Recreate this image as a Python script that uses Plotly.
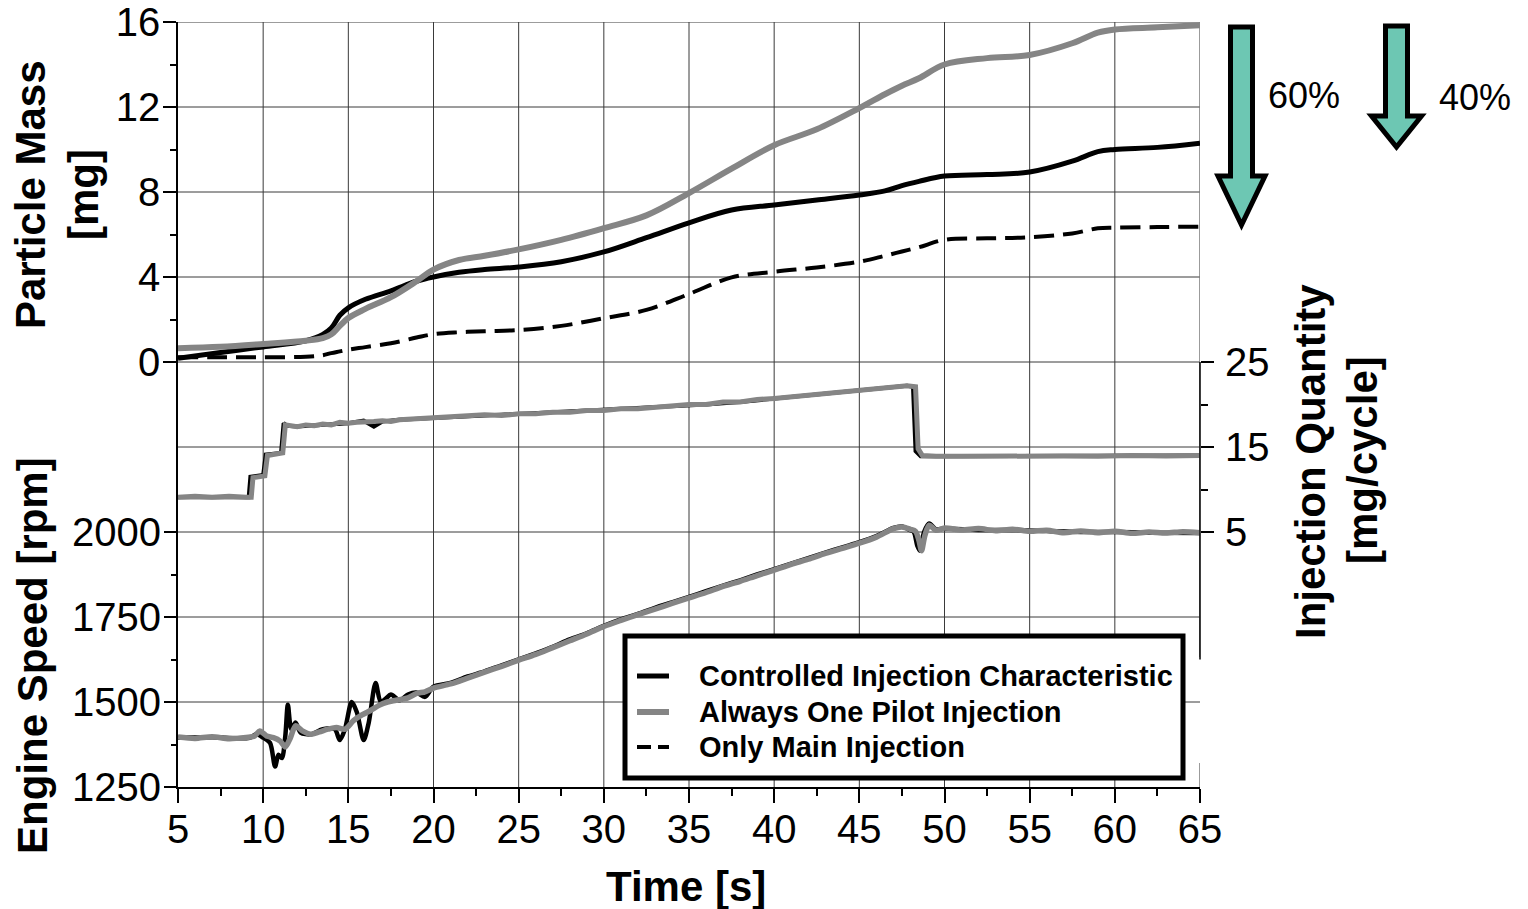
import plotly.graph_objects as go

# ---------------------------------------------------------------------------
# Data
# ---------------------------------------------------------------------------
X_TICKS = [5, 10, 15, 20, 25, 30, 35, 40, 45, 50, 55, 60, 65]
X_MINOR = [7.5, 12.5, 17.5, 22.5, 27.5, 32.5, 37.5, 42.5, 47.5, 52.5, 57.5, 62.5]

PM_TICKS = [0, 4, 8, 12, 16]
PM_MINOR = [2, 6, 10, 14]
PM_GRID = [-20, -16, -12, -8, -4, 0, 4, 8, 12, 16]

SPEED_TICKS = [1250, 1500, 1750, 2000]
SPEED_MINOR = [1375, 1625, 1875]

INJ_TICKS = [5, 15, 25]
INJ_MINOR = [10, 20]

# Accumulated particle mass [mg]
PM_TIME = [5, 7.5, 10, 12.5, 13.5, 14, 14.5, 15, 16, 17.5,
           19, 20, 21.5, 23, 25, 27.5, 30, 32.5, 35, 37.5,
           40, 42.5, 45, 46.5, 47.5, 48.5, 50, 52.5, 55, 57.5,
           59, 60, 62.5, 65]
PM_CONTROLLED = [0.17, 0.45, 0.71, 1.0, 1.3, 1.6, 2.2, 2.55, 2.95, 3.35,
                 3.8, 4.0, 4.22, 4.35, 4.47, 4.72, 5.18, 5.85, 6.55, 7.15,
                 7.39, 7.62, 7.86, 8.05, 8.3, 8.5, 8.75, 8.82, 8.94, 9.45,
                 9.9, 10.0, 10.1, 10.3]
PM_PILOT = [0.65, 0.72, 0.85, 1.0, 1.12, 1.3, 1.7, 2.07, 2.5, 3.05,
            3.8, 4.35, 4.8, 5.0, 5.3, 5.75, 6.3, 6.9, 7.95, 9.1,
            10.2, 10.95, 11.95, 12.6, 13.0, 13.35, 14.0, 14.3, 14.45, 15.0,
            15.5, 15.65, 15.75, 15.85]
PM_MAIN = [0.22, 0.22, 0.22, 0.25, 0.32, 0.42, 0.5, 0.58, 0.7, 0.88,
           1.15, 1.31, 1.4, 1.45, 1.5, 1.7, 2.06, 2.45, 3.2, 3.98,
           4.25, 4.45, 4.72, 5.0, 5.2, 5.4, 5.75, 5.82, 5.87, 6.05,
           6.29, 6.32, 6.35, 6.37]

# Injection quantity [mg/cycle]
INJ_TIME_CONTROLLED = [5, 7, 9, 9.15, 9.25, 10.0, 10.15, 11.05, 11.2, 11.4,
                       12, 13, 14, 15, 15.9, 16.5, 17, 18, 20, 22,
                       24, 26, 28, 30, 32, 34, 36, 38, 40, 42,
                       44, 46, 47.8, 48.15, 48.3, 48.6, 50, 55, 60, 65]
INJ_CONTROLLED = [9.1, 9.15, 9.1, 9.1, 11.5, 11.7, 14.1, 14.3, 17.8, 17.5,
                  17.4, 17.5, 17.6, 17.8, 18.1, 17.4, 18.0, 18.2, 18.4, 18.6,
                  18.7, 18.9, 19.1, 19.3, 19.5, 19.8, 20.0, 20.3, 20.7, 21.0,
                  21.4, 21.8, 22.2, 22.1, 14.5, 13.9, 13.9, 13.9, 13.95, 14.0]

INJ_TIME_PILOT = [5, 6, 7, 8, 9, 9.3, 9.4, 10.1, 10.25, 11.15,
                  11.3, 11.5, 12, 12.5, 13, 13.5, 14, 14.5, 15, 15.5,
                  16, 16.5, 17, 17.5, 18, 19, 20, 21, 22, 23,
                  24, 25, 26, 27, 28, 29, 30, 31, 32, 33,
                  34, 35, 36, 37, 38, 39, 40, 41, 42, 43,
                  44, 45, 46, 47, 47.8, 48.3, 48.45, 48.7, 49.5, 51,
                  53, 55, 57, 59, 61, 63, 65]
INJ_PILOT = [9.1, 9.2, 9.1, 9.2, 9.1, 9.1, 11.4, 11.6, 14.0, 14.3,
             17.6, 17.5, 17.4, 17.6, 17.5, 17.7, 17.6, 17.9, 17.8, 17.9,
             17.9, 18.0, 18.1, 18.0, 18.2, 18.3, 18.4, 18.6, 18.6, 18.8,
             18.7, 18.9, 18.9, 19.1, 19.1, 19.3, 19.3, 19.5, 19.5, 19.7,
             19.8, 20.0, 20.0, 20.3, 20.3, 20.6, 20.7, 20.9, 21.0, 21.3,
             21.4, 21.7, 21.8, 22.0, 22.2, 22.1, 14.8, 14.0, 13.9, 13.9,
             13.95, 13.9, 13.95, 13.9, 14.0, 13.95, 14.0]

# Engine speed [rpm]
SPEED_TIME_CONTROLLED = [5, 7, 9.2, 9.6, 10.0, 10.4, 10.7, 10.9, 11.1, 11.3,
                         11.45, 11.65, 11.9, 12.2, 12.8, 13.5, 14.2, 14.5, 14.8, 15.2,
                         15.5, 15.9, 16.2, 16.6, 16.9, 17.2, 17.5, 18, 18.5, 19,
                         19.5, 20, 21, 22, 23, 24, 25, 26, 27, 28,
                         29, 30, 31, 32, 33, 34, 35, 36, 37, 38,
                         39, 40, 41, 42, 43, 44, 45, 46, 47, 47.5,
                         48, 48.2, 48.4, 48.55, 48.8, 49.1, 49.5, 50, 52, 54,
                         56, 58, 60, 62, 65]
SPEED_CONTROLLED = [1395, 1396, 1395, 1405, 1395, 1380, 1310, 1345, 1335, 1400,
                    1492, 1420, 1440, 1410, 1405, 1420, 1420, 1388, 1420, 1500,
                    1470, 1388, 1440, 1556, 1500, 1510, 1522, 1505, 1522, 1528,
                    1515, 1545, 1556, 1575, 1590, 1608, 1625, 1643, 1662, 1684,
                    1702, 1724, 1743, 1759, 1777, 1793, 1809, 1826, 1842, 1858,
                    1875, 1891, 1907, 1923, 1939, 1955, 1970, 1988, 2012, 2016,
                    2005, 2000, 1960, 1945, 2000, 2025, 2008, 2010, 2006, 2006,
                    2003, 2000, 2000, 1998, 1997]

SPEED_TIME_PILOT = [5, 6, 7, 8, 9, 9.5, 9.8, 10.2, 10.6, 11.0,
                    11.3, 11.6, 11.9, 12.3, 12.8, 13.3, 13.8, 14.3, 14.8, 15.3,
                    15.8, 16.3, 16.8, 17.3, 17.8, 18.5, 19, 19.5, 20, 21,
                    22, 23, 24, 25, 26, 27, 28, 29, 30, 31,
                    32, 33, 34, 35, 36, 37, 38, 39, 40, 41,
                    42, 43, 44, 45, 46, 47, 47.5, 48, 48.3, 48.5,
                    48.65, 48.85, 49.1, 49.5, 50, 51, 52, 53, 54, 55,
                    56, 57, 58, 59, 60, 61, 62, 63, 64, 65]
SPEED_PILOT = [1397, 1393, 1398, 1392, 1396, 1400, 1415, 1400, 1395, 1385,
               1368, 1395, 1430, 1415, 1405, 1412, 1420, 1425, 1420, 1445,
               1462, 1475, 1490, 1500, 1505, 1512, 1525, 1530, 1541, 1553,
               1570, 1588, 1605, 1623, 1640, 1660, 1680, 1700, 1722, 1740,
               1757, 1773, 1790, 1806, 1822, 1840, 1855, 1872, 1888, 1905,
               1920, 1937, 1952, 1967, 1985, 2010, 2015, 2008, 2002, 1975,
               1945, 1990, 2020, 2005, 2012, 2006, 2010, 2004, 2008, 2002,
               2005, 1998, 2003, 1998, 2002, 1996, 2000, 1997, 2001, 1998]

SERIES_NAMES = ["Controlled Injection Characteristic",
                "Always One Pilot Injection",
                "Only Main Injection"]
REDUCTION_LABELS = ["60%", "40%"]

# ---------------------------------------------------------------------------
# Styling / geometry helpers
# ---------------------------------------------------------------------------
W, H = 1528, 909
L, R, T, B = 178, 1200, 22, 787          # plot area in pixels

FONT = "Liberation Sans, Arial, sans-serif"
GRAY = "#858585"
BLACK = "#000000"
TEAL = "#6DC7B3"
GRID = "#3a3a3a"


def px(x):
    return (x - L) / (R - L)


def py(y):
    return (B - y) / (B - T)


fig = go.Figure()

# Particle mass (top band)
fig.add_trace(go.Scatter(x=PM_TIME, y=PM_CONTROLLED, yaxis="y", mode="lines",
                         line=dict(color=BLACK, width=5, shape="spline"),
                         name=SERIES_NAMES[0], showlegend=False))
fig.add_trace(go.Scatter(x=PM_TIME, y=PM_PILOT, yaxis="y", mode="lines",
                         line=dict(color=GRAY, width=6, shape="spline"),
                         name=SERIES_NAMES[1], showlegend=False))
fig.add_trace(go.Scatter(x=PM_TIME, y=PM_MAIN, yaxis="y", mode="lines",
                         line=dict(color=BLACK, width=4, shape="spline", dash="20px,9px"),
                         name=SERIES_NAMES[2], showlegend=False))

# Injection quantity (right axis)
fig.add_trace(go.Scatter(x=INJ_TIME_CONTROLLED, y=INJ_CONTROLLED, yaxis="y3", mode="lines",
                         line=dict(color=BLACK, width=4), showlegend=False))
fig.add_trace(go.Scatter(x=INJ_TIME_PILOT, y=INJ_PILOT, yaxis="y3", mode="lines",
                         line=dict(color=GRAY, width=5), showlegend=False))

# Engine speed (left lower axis)
fig.add_trace(go.Scatter(x=SPEED_TIME_CONTROLLED, y=SPEED_CONTROLLED, yaxis="y2", mode="lines",
                         line=dict(color=BLACK, width=4.5, shape="spline", smoothing=0.8),
                         showlegend=False))
fig.add_trace(go.Scatter(x=SPEED_TIME_PILOT, y=SPEED_PILOT, yaxis="y2", mode="lines",
                         line=dict(color=GRAY, width=5.5, shape="spline", smoothing=0.8),
                         showlegend=False))

tickfont = dict(family=FONT, size=40, color="black")

fig.update_layout(
    width=W, height=H,
    margin=dict(l=L, r=W - R, t=T, b=H - B, pad=0, autoexpand=False),
    paper_bgcolor="white", plot_bgcolor="white",
    showlegend=False,
    xaxis=dict(range=[5, 65], tickvals=X_TICKS, ticks="outside", ticklen=14,
               tickwidth=1.5, tickcolor="black", showline=True, linecolor="black",
               linewidth=1.5, showgrid=False, zeroline=False, tickfont=tickfont,
               ticklabeloverflow="allow", ticklabelstandoff=-8, automargin=False,
               minor=dict(tickvals=X_MINOR, ticks="outside", ticklen=7,
                          tickcolor="black", tickwidth=1.5, showgrid=False)),
    yaxis=dict(range=[-20, 16], tickvals=PM_TICKS, ticks="outside", ticklen=13,
               tickwidth=1.5, tickcolor="black", showline=True, linecolor="black",
               linewidth=1.5, showgrid=False, zeroline=False, tickfont=tickfont,
               ticklabeloverflow="allow", ticklabelstandoff=-5, automargin=False,
               minor=dict(tickvals=PM_MINOR, ticks="outside", ticklen=6,
                          tickcolor="black", tickwidth=1.5, showgrid=False)),
    yaxis2=dict(range=[1250, 3500], overlaying="y", side="left", anchor="x",
                tickvals=SPEED_TICKS, ticks="outside", ticklen=13, tickwidth=1.5,
                tickcolor="black", showline=False, showgrid=False, zeroline=False,
                tickfont=tickfont, ticklabeloverflow="allow", ticklabelstandoff=-5,
                automargin=False,
                minor=dict(tickvals=SPEED_MINOR, ticks="outside", ticklen=6,
                           tickcolor="black", tickwidth=1.5, showgrid=False)),
    yaxis3=dict(range=[-25, 65], overlaying="y", side="right", anchor="x",
                tickvals=INJ_TICKS, ticks="outside", ticklen=13, tickwidth=1.5,
                tickcolor="black", showline=False, showgrid=False, zeroline=False,
                tickfont=tickfont, ticklabeloverflow="allow", ticklabelstandoff=3,
                automargin=False,
                minor=dict(tickvals=INJ_MINOR, ticks="outside", ticklen=7,
                           tickcolor="black", tickwidth=1.5, showgrid=False)),
)

shapes = []
# Grid
for t in X_TICKS[1:-1]:
    shapes.append(dict(type="line", xref="x", yref="paper", x0=t, x1=t, y0=0, y1=1,
                       line=dict(color=GRID, width=1), layer="below"))
for v in PM_GRID[1:]:
    shapes.append(dict(type="line", xref="paper", yref="y", x0=0, x1=1, y0=v, y1=v,
                       line=dict(color=GRID, width=1), layer="below"))
# right border, interrupted beside the legend
shapes.append(dict(type="line", xref="x", yref="paper", x0=65, x1=65, y0=py(657), y1=1,
                   line=dict(color="#7a7a7a", width=1.5), layer="below"))
shapes.append(dict(type="line", xref="x", yref="paper", x0=65, x1=65, y0=0, y1=py(763),
                   line=dict(color="#7a7a7a", width=1.5), layer="below"))
# injection axis spine
shapes.append(dict(type="line", xref="paper", yref="y3", x0=1, x1=1, y0=-10, y1=25,
                   line=dict(color="black", width=1.5), layer="above"))

# Legend box
shapes.append(dict(type="rect", xref="paper", yref="paper",
                   x0=px(625), x1=px(1183), y0=py(778), y1=py(636),
                   fillcolor="white", line=dict(color="black", width=5), layer="above"))
legend_rows = [676, 712, 747]
legend_styles = [dict(color=BLACK, width=5),
                 dict(color=GRAY, width=6),
                 dict(color=BLACK, width=4, dash="14px,7px")]
for yy, st in zip(legend_rows, legend_styles):
    shapes.append(dict(type="line", xref="paper", yref="paper",
                       x0=px(637), x1=px(669), y0=py(yy), y1=py(yy),
                       line=st, layer="above"))


# Reduction arrows
def arrow_path(cx, half_shaft, half_head, top, neck, tip):
    pts = [(cx - half_shaft, top), (cx + half_shaft, top), (cx + half_shaft, neck),
           (cx + half_head, neck), (cx, tip), (cx - half_head, neck),
           (cx - half_shaft, neck)]
    d = "M " + " L ".join(f"{px(a):.5f},{py(b):.5f}" for a, b in pts) + " Z"
    return d


shapes.append(dict(type="path", xref="paper", yref="paper",
                   path=arrow_path(1241.5, 11, 23.5, 27, 176, 225),
                   fillcolor=TEAL, line=dict(color="black", width=5), layer="above"))
shapes.append(dict(type="path", xref="paper", yref="paper",
                   path=arrow_path(1396.5, 11, 25, 26, 116, 147),
                   fillcolor=TEAL, line=dict(color="black", width=5), layer="above"))

fig.update_layout(shapes=shapes)

ann = []
title_font = dict(family=FONT, size=42, color="black")


def label(text, x, y, angle=0, font=title_font, xanchor="center"):
    ann.append(dict(text=text, xref="paper", yref="paper", x=px(x), y=py(y),
                    xanchor=xanchor, yanchor="middle", showarrow=False,
                    textangle=angle, font=font))


label("<b>Particle Mass</b>", 31, 195, -90)
label("<b>[mg]</b>", 84, 195, -90)
label("<b>Engine Speed [rpm]</b>", 32, 656, -90)
label("<b>Injection Quantity</b>", 1311, 462, -90)
label("<b>[mg/cycle]</b>", 1362, 460, -90)
label("<b>Time [s]</b>", 686, 886)

pct_font = dict(family=FONT, size=36, color="black")
label(REDUCTION_LABELS[0], 1266, 95, font=pct_font, xanchor="left")
label(REDUCTION_LABELS[1], 1437, 98, font=pct_font, xanchor="left")

leg_font = dict(family=FONT, size=29, color="black")
for yy, name in zip(legend_rows, SERIES_NAMES):
    label(f"<b>{name}</b>", 697, yy, font=leg_font, xanchor="left")

fig.update_layout(annotations=ann)

fig.write_html("out.html")
